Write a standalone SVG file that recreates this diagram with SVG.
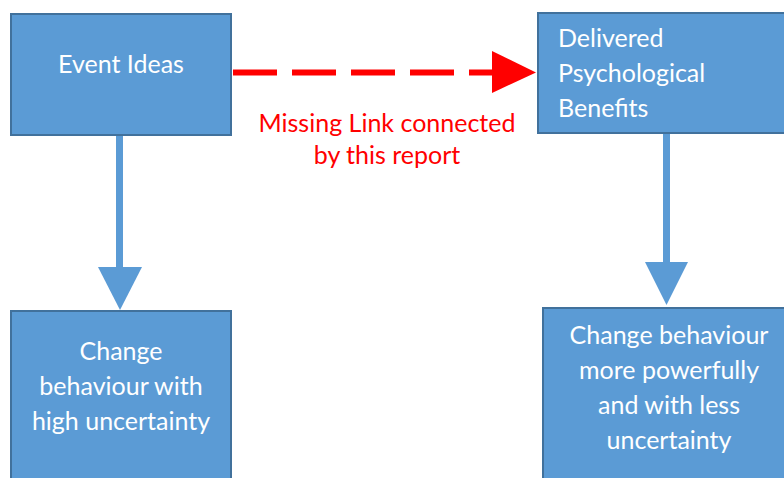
<svg xmlns="http://www.w3.org/2000/svg" width="784" height="478" viewBox="0 0 784 478">
<style>
.box{fill:#5B9BD5;stroke:#41719C;stroke-width:2}
.t{font-family:Lato,"Open Sans","Liberation Sans",sans-serif;font-size:25px;fill:#FFFFFF}
.c{text-anchor:middle}
.r{font-family:Lato,"Open Sans","Liberation Sans",sans-serif;font-size:25px;fill:#FF0000;text-anchor:middle}
.blue{fill:#5B9BD5}
</style>
<rect width="784" height="478" fill="#FFFFFF"/>
<g id="event-ideas">
<rect class="box" x="11" y="14" width="220" height="121"/>
<text class="t c" x="121" y="73">Event Ideas</text>
</g>
<g id="delivered-benefits">
<rect class="box" x="538" y="13" width="260" height="120"/>
<text class="t" x="558" y="47">Delivered</text>
<text class="t" x="558" y="82">Psychological</text>
<text class="t" x="558" y="117">Benefits</text>
</g>
<g id="change-high">
<rect class="box" x="11" y="311" width="220" height="190"/>
<text class="t c" x="121" y="360">Change</text>
<text class="t c" x="121" y="395">behaviour with</text>
<text class="t c" x="121" y="430">high uncertainty</text>
</g>
<g id="change-less">
<rect class="box" x="543" y="308" width="260" height="190"/>
<text class="t c" x="669" y="344">Change behaviour</text>
<text class="t c" x="669" y="379">more powerfully</text>
<text class="t c" x="669" y="414">and with less</text>
<text class="t c" x="669" y="449">uncertainty</text>
</g>
<g id="connectors">
<rect class="blue" x="116" y="136" width="7" height="132"/>
<polygon class="blue" points="98,267 142,267 120,310"/>
<rect class="blue" x="663" y="134" width="7" height="129"/>
<polygon class="blue" points="645,262 688,262 666.5,305"/>
<line x1="233" y1="72.5" x2="493" y2="72.5" stroke="#FF0000" stroke-width="6" stroke-dasharray="44 15"/>
<polygon points="492,51 536,72.5 492,93" fill="#FF0000"/>
</g>
<g id="label">
<text class="r" x="387" y="132">Missing Link connected</text>
<text class="r" x="387" y="164">by this report</text>
</g>
</svg>
